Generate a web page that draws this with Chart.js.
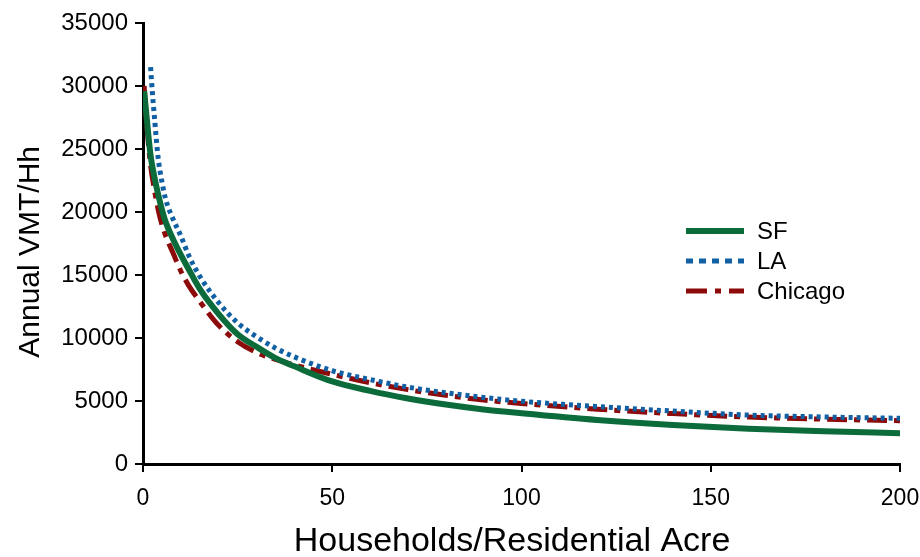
<!DOCTYPE html>
<html lang="en">
  <head>
    <meta charset="UTF-8" />
    <title>Annual VMT per household vs density</title>
    <script src="https://cdn.jsdelivr.net/npm/chart.js"></script>
    <style>
      html, body { margin: 0; padding: 0; background: #fff; }
      #wrap { width: 920px; height: 557px; }
    </style>
    <script>
      // values
      const sfDensity = [0.3, 1, 2, 3, 4, 5, 6, 8, 10, 12, 15, 20, 25, 30, 35, 40, 50, 60, 70, 80, 90, 100, 120, 140, 160, 180, 200];
      const sfVmt = [29600, 27400, 24500, 22800, 21400, 20200, 19200, 17800, 16600, 15500, 13900, 11900, 10300, 9300, 8400, 7750, 6550, 5800, 5200, 4720, 4330, 4030, 3500, 3100, 2800, 2600, 2440];

      const laDensity = [2, 2.5, 3, 4, 5, 6, 8, 10, 12, 15, 20, 25, 30, 35, 40, 50, 60, 70, 80, 90, 100, 120, 140, 160, 180, 200];
      const laVmt = [31500, 29400, 27600, 24300, 22400, 21000, 19400, 18100, 16600, 14900, 12800, 11200, 10100, 9200, 8500, 7400, 6700, 6100, 5650, 5280, 4980, 4560, 4200, 3880, 3730, 3630];

      const chiDensity = [0.3, 1, 2, 3, 4, 5, 6, 8, 10, 12, 15, 20, 25, 30, 35, 40, 50, 60, 70, 80, 90, 100, 120, 140, 160, 180, 200];
      const chiVmt = [30000, 26900, 23700, 21800, 20200, 19000, 18100, 16700, 15300, 14200, 12900, 11000, 9700, 8850, 8300, 7850, 7120, 6450, 5900, 5450, 5080, 4800, 4350, 4000, 3730, 3560, 3440];

      const seriesNames = ["SF", "LA", "Chicago"];
      const xTicks = [0, 50, 100, 150, 200];
      const yTicks = [0, 5000, 10000, 15000, 20000, 25000, 30000, 35000];

      const toPoints = (xs, ys) => xs.map((x, i) => ({ x: x, y: ys[i] }));

      // legend drawn inside the plot, right side
      const insideLegend = {
        id: "insideLegend",
        afterDraw(chart) {
          const ctx = chart.ctx;
          const x0 = 686, x1 = 744, tx = 757;
          const rows = [231, 261, 291];
          chart.data.datasets.forEach((ds, i) => {
            const y = rows[i];
            ctx.save();
            ctx.strokeStyle = ds.borderColor;
            ctx.lineWidth = ds.legendWidth;
            ctx.lineCap = "butt";
            ctx.setLineDash(ds.legendDash);
            ctx.beginPath();
            ctx.moveTo(x0, y);
            ctx.lineTo(x1, y);
            ctx.stroke();
            ctx.setLineDash([]);
            ctx.fillStyle = "#000";
            ctx.font = '24px "Liberation Sans", Arial, sans-serif';
            ctx.textBaseline = "middle";
            ctx.fillText(ds.label, tx, y + 1);
            ctx.restore();
          });
        },
      };

      document.addEventListener("DOMContentLoaded", function () {
        const data = {
          datasets: [
            {
              label: seriesNames[0],
              data: toPoints(sfDensity, sfVmt),
              borderColor: "#0b6b3a",
              borderWidth: 6,
              legendWidth: 6,
              legendDash: [],
            },
            {
              label: seriesNames[1],
              data: toPoints(laDensity, laVmt),
              borderColor: "#1060a3",
              borderWidth: 5,
              borderDash: [4, 4],
              legendWidth: 5,
              legendDash: [7, 6],
            },
            {
              label: seriesNames[2],
              data: toPoints(chiDensity, chiVmt),
              borderColor: "#8c0a0a",
              borderWidth: 5,
              borderDash: [20, 7, 6, 7],
              legendWidth: 5,
              legendDash: [21, 8, 6, 8],
            },
          ],
        };

        const config = {
          type: "line",
          data: data,
          plugins: [insideLegend],
          options: {
            animation: { duration: 0 },
            responsive: false,
            layout: { padding: { top: 23, right: 20, left: 0, bottom: 0 } },
            elements: {
              point: { radius: 0 },
              line: { cubicInterpolationMode: "monotone", borderCapStyle: "butt" },
            },
            plugins: {
              legend: { display: false },
              tooltip: { enabled: false },
            },
            scales: {
              x: {
                type: "linear",
                min: 0,
                max: 200,
                afterBuildTicks: (s) => { s.ticks = xTicks.map((v) => ({ value: v })); },
                afterFit: (s) => {
                  s.height = 93;
                  s.paddingLeft = 0;
                  s.paddingRight = 0;
                },
                border: { color: "#000", width: 3 },
                grid: { drawOnChartArea: false, color: "#000", lineWidth: 2, tickLength: 8 },
                ticks: {
                  color: "#000",
                  padding: 13,
                  font: { family: '"Liberation Sans", Arial', size: 23 },
                },
                title: {
                  display: true,
                  text: "Households/Residential Acre  ",
                  color: "#000",
                  padding: { top: 0, bottom: 0 },
                  font: { family: '"Liberation Sans", Arial', size: 34, lineHeight: 0.9 },
                },
              },
              y: {
                type: "linear",
                min: 0,
                max: 35000,
                afterBuildTicks: (s) => { s.ticks = yTicks.map((v) => ({ value: v })); },
                afterFit: (s) => { s.width = 143; },
                border: { color: "#000", width: 3 },
                grid: { drawOnChartArea: false, color: "#000", lineWidth: 2, tickLength: 8 },
                ticks: {
                  color: "#000",
                  padding: 7,
                  callback: (v) => String(v),
                  font: { family: '"Liberation Sans", Arial', size: 24 },
                },
                title: {
                  display: true,
                  text: "Annual VMT/Hh  ",
                  color: "#000",
                  padding: { top: 13, bottom: 0 },
                  font: { family: '"Liberation Sans", Arial', size: 30 },
                },
              },
            },
          },
        };

        new Chart(document.getElementById("vmt-chart"), config);
      });
    </script>
  </head>
  <body>
    <div id="wrap">
      <canvas id="vmt-chart" width="920" height="557"></canvas>
    </div>
  </body>
</html>
